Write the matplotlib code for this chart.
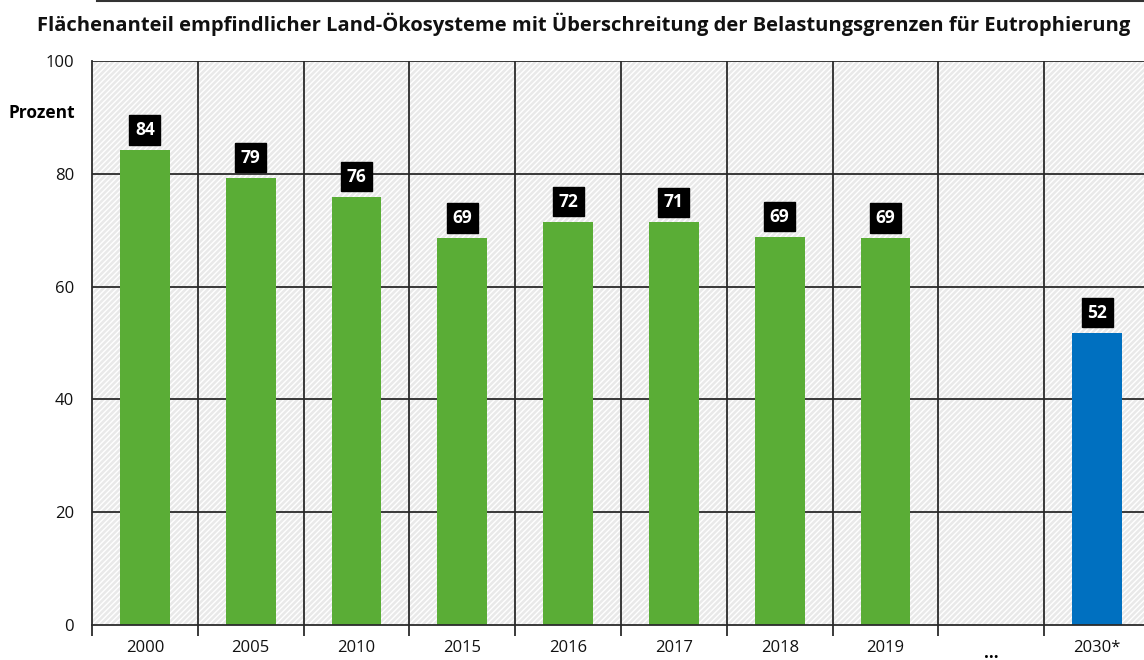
import matplotlib.pyplot as plt
from matplotlib.patches import Rectangle

plt.rcParams['font.family'] = ['Open Sans', 'DejaVu Sans']

# data
years = ['2000', '2005', '2010', '2015', '2016', '2017', '2018', '2019', '', '2030*']
values = [84.2, 79.3, 75.9, 68.6, 71.5, 71.4, 68.8, 68.6, None, 51.8]
labels = ['84', '79', '76', '69', '72', '71', '69', '69', '', '52']
colors = ['#5aad36'] * 8 + ['none', '#0070c0']

fig = plt.figure(figsize=(11.44, 6.6), dpi=100)
ax = fig.add_axes([92 / 1144, 1 - 625 / 660, 1058 / 1144, 564 / 660])
ax.set_xlim(0, len(years))
ax.set_ylim(0, 100)

# hatched background
bg = Rectangle((0, 0), len(years), 100, facecolor='#e9e9e9', edgecolor='white',
               hatch='//////', linewidth=0, zorder=0)
ax.add_patch(bg)
ax.set_facecolor('white')

# grid
for y in [20, 40, 60, 80, 100]:
    ax.axhline(y, color='#2b2b2b', lw=1.3, zorder=1)
for i in range(1, len(years)):
    ax.axvline(i, color='#2b2b2b', lw=1.3, zorder=1)

xs = [i + 0.5 for i in range(len(years))]
for x, v, lab, c in zip(xs, values, labels, colors):
    if v is None:
        continue
    ax.bar(x, v, width=0.47, color=c, zorder=2)
    ax.annotate(lab, (x, v), xytext=(0, 8), textcoords='offset points',
                ha='center', va='bottom', color='white', fontsize=12.5, fontweight='bold',
                bbox=dict(boxstyle='square,pad=0.32', fc='black', ec='black'), zorder=3)

for s in ['top', 'right']:
    ax.spines[s].set_visible(False)
ax.spines['left'].set_color('#2b2b2b')
ax.spines['left'].set_linewidth(1.3)
ax.spines['bottom'].set_color('#2b2b2b')
ax.spines['bottom'].set_linewidth(1.3)

ax.set_yticks([0, 20, 40, 60, 80, 100])
ax.tick_params(axis='y', length=0, pad=13, labelsize=12, labelcolor='#111111')
ax.set_xticks(range(0, len(years) + 1))
ax.set_xticklabels([])
ax.tick_params(axis='x', which='major', length=8, width=1.3, color='#2b2b2b')
ax.set_xticks(xs, minor=True)
ax.set_xticklabels(years, minor=True)
ax.tick_params(axis='x', which='minor', length=0, pad=11, labelsize=12, labelcolor='#111111')
ax.text(xs[8], -5.8, '...', ha='center', va='baseline', fontsize=12, fontweight='bold')

fig.text(9 / 1144, 1 - 113 / 660, 'Prozent', fontsize=12.5, fontweight='bold', va='center')
fig.text(37 / 1144, 1 - 24 / 660,
         'Flächenanteil empfindlicher Land-Ökosysteme mit Überschreitung der Belastungsgrenzen für Eutrophierung',
         fontsize=14.5, fontweight='bold', va='center', color='#111111')
fig.add_artist(plt.Line2D([97 / 1144, 1], [0.999, 0.999], color='#333333', lw=1.5))

fig.savefig('out.png', dpi=100)
